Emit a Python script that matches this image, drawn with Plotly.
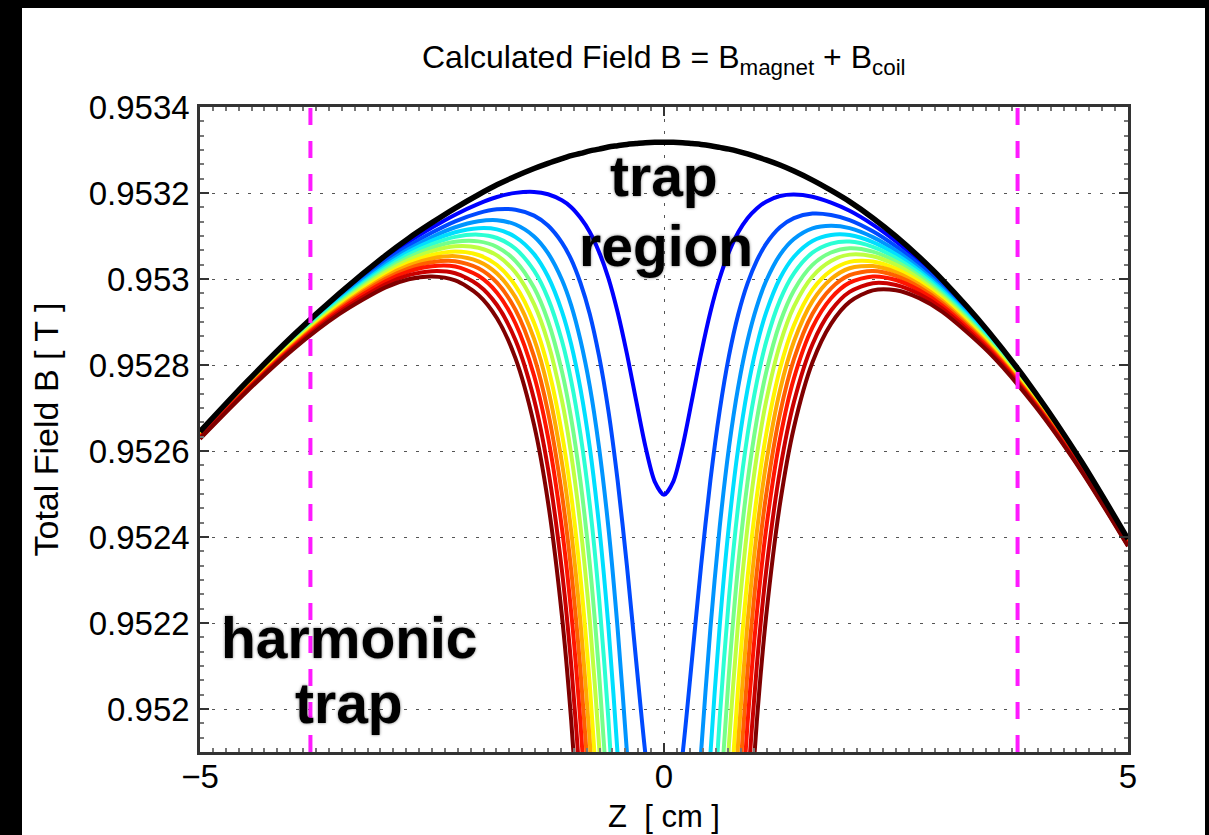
import numpy as np
import plotly.graph_objects as go

# Axial position along the trap [cm]
z_cm = [-5.0, -4.5, -4.0, -3.5, -3.0, -2.75, -2.5, -2.25, -2.0, -1.8, -1.6, -1.4,
        -1.25, -1.1, -1.0, -0.9, -0.8, -0.7, -0.6, -0.5, -0.4, -0.3, -0.2, -0.1,
        0.0,
        0.1, 0.2, 0.3, 0.4, 0.5, 0.6, 0.7, 0.8, 0.9, 1.0, 1.1, 1.25,
        1.4, 1.6, 1.8, 2.0, 2.25, 2.5, 2.75, 3.0, 3.5, 4.0, 4.5, 5.0]

# Main magnet field alone [T]
b_magnet = [0.952645, 0.952760, 0.952868, 0.952966, 0.953055, 0.953095, 0.953131,
            0.953165, 0.953196, 0.953219, 0.953239, 0.953257, 0.953269, 0.953280,
            0.953287, 0.953292, 0.953298, 0.953302, 0.953307, 0.953310, 0.953313,
            0.953315, 0.953317, 0.953318,
            0.953318,
            0.953318, 0.953317, 0.953315, 0.953313, 0.953310, 0.953306, 0.953302,
            0.953297, 0.953291, 0.953284, 0.953277, 0.953265, 0.953251, 0.953230,
            0.953206, 0.953180, 0.953142, 0.953099, 0.953051, 0.952998, 0.952877,
            0.952736, 0.952575, 0.952395]

# Trap-coil field shape, normalised to 1 at the coil centre
coil_profile = [0.00186, 0.00254, 0.00359, 0.00531, 0.00829, 0.01064, 0.01395,
                0.01875, 0.02596, 0.03454, 0.04717, 0.06639, 0.08773, 0.11838,
                0.14631, 0.18258, 0.22987, 0.29148, 0.37108, 0.47166, 0.59334,
                0.72939, 0.86201, 0.96221,
                1.0,
                0.96221, 0.86201, 0.72939, 0.59334, 0.47166, 0.37108, 0.29148,
                0.22987, 0.18258, 0.14631, 0.11838, 0.08773, 0.06639, 0.04717,
                0.03454, 0.02596, 0.01875, 0.01395, 0.01064, 0.00829, 0.00531,
                0.00359, 0.00254, 0.00186]

# Coil field depth at the centre for each coil current setting [gauss]
coil_center_gauss = [8.2, 16.5, 23.8, 30.0, 35.8, 41.8, 47.5, 54.0, 59.7, 65.9,
                     72.6, 80.9, 89.8]

curve_colors = ["#0000ff", "#004aff", "#0095ff", "#00dfff", "#2bffd4", "#75ff8a",
                "#bfff40", "#fff400", "#ffaa00", "#ff6000", "#ff1500", "#ca0000",
                "#800000"]

# Harmonic trap boundaries [cm]
trap_edges_cm = [-3.81, 3.81]

y_ticks = [0.952, 0.9522, 0.9524, 0.9526, 0.9528, 0.953, 0.9532, 0.9534]
y_tick_text = ["0.952", "0.9522", "0.9524", "0.9526", "0.9528", "0.953", "0.9532", "0.9534"]
x_ticks = [-5, 0, 5]
x_tick_text = ["\u22125", "0", "5"]

Y_MIN, Y_MAX = 0.9519, 0.9534
FONT = "Liberation Sans, Arial, Helvetica, sans-serif"

z = np.array(z_cm)
bm = np.array(b_magnet)
prof = np.array(coil_profile)

fig = go.Figure()

for gauss, color in zip(coil_center_gauss, curve_colors):
    b_total = bm - gauss * 1e-4 * prof
    fig.add_trace(go.Scatter(
        x=z, y=b_total, mode="lines",
        line=dict(color=color, width=4, shape="spline", smoothing=0.8),
        hoverinfo="skip", showlegend=False))

fig.add_trace(go.Scatter(
    x=z, y=bm, mode="lines",
    line=dict(color="black", width=5.5, shape="spline", smoothing=0.8),
    hoverinfo="skip", showlegend=False))

for edge in trap_edges_cm:
    fig.add_trace(go.Scatter(
        x=[edge, edge], y=[Y_MIN, Y_MAX], mode="lines",
        line=dict(color="#ff1aff", width=4, dash="17px,16px"),
        hoverinfo="skip", showlegend=False))

axis_common = dict(
    showline=True, linecolor="#333333", linewidth=2.5, mirror="ticks",
    ticks="inside", ticklen=9, tickwidth=2, tickcolor="#333333",
    showgrid=True, gridcolor="#555555", gridwidth=1.3, griddash="3px,9px",
    zeroline=False,
    tickfont=dict(family=FONT, size=33, color="black"),
)

fig.update_xaxes(range=[-5, 5], tickvals=x_ticks, ticktext=x_tick_text,
                 ticklabelstandoff=-6,
                 minor=dict(ticks="inside", ticklen=4, tickcolor="#777777", dtick=5 / 36,
                            tick0=-5, showgrid=False),
                 **axis_common)
fig.update_yaxes(range=[Y_MIN, Y_MAX], tickvals=y_ticks, ticktext=y_tick_text,
                 ticklabelstandoff=1,
                 minor=dict(ticks="inside", ticklen=4, tickcolor="#777777",
                            dtick=0.0002 / 6, tick0=0.952, showgrid=False),
                 **axis_common)

label_font = dict(family=FONT, size=57, color="black", weight=700,
                  shadow="0px 0px 3px rgba(0,0,0,0.55)")
annotations = [
    dict(text="trap", x=0, y=0.953239),
    dict(text="region", x=0.02, y=0.953076),
    dict(text="harmonic", x=-3.394, y=0.952165),
    dict(text="trap", x=-3.394, y=0.952014),
]
for a in annotations:
    fig.add_annotation(x=a["x"], y=a["y"], xref="x", yref="y", text=a["text"],
                       showarrow=False, xanchor="center", yanchor="middle",
                       font=label_font)

# Title and axis labels
fig.add_annotation(text="Calculated Field B = B<sub>magnet</sub> + B<sub>coil</sub>",
                   xref="paper", yref="paper", x=0.5, y=1.074, showarrow=False,
                   xanchor="center", yanchor="middle",
                   font=dict(family=FONT, size=32, color="black"))
fig.add_annotation(text="Total Field B [ T ]", xref="paper", yref="paper",
                   x=-0.167, y=0.5, textangle=-90, showarrow=False,
                   xanchor="center", yanchor="middle",
                   font=dict(family=FONT, size=34, color="black"))
fig.add_annotation(text="Z\u00a0\u00a0[ cm ]", xref="paper", yref="paper",
                   x=0.5, y=-0.1, showarrow=False,
                   xanchor="center", yanchor="middle",
                   font=dict(family=FONT, size=31, color="black"))

# White figure panel on a black surround
fig.add_shape(type="rect", xref="paper", yref="paper",
              x0=(22 - 200) / 928, x1=(1205 - 200) / 928,
              y0=(752 - 840) / 645, y1=(752 - 8) / 645,
              fillcolor="white", line=dict(width=0), layer="below")

fig.update_layout(
    width=1209, height=835,
    margin=dict(l=200, r=81, t=107, b=83),
    paper_bgcolor="black", plot_bgcolor="white",
    showlegend=False,
)

fig.write_html("out.html")
